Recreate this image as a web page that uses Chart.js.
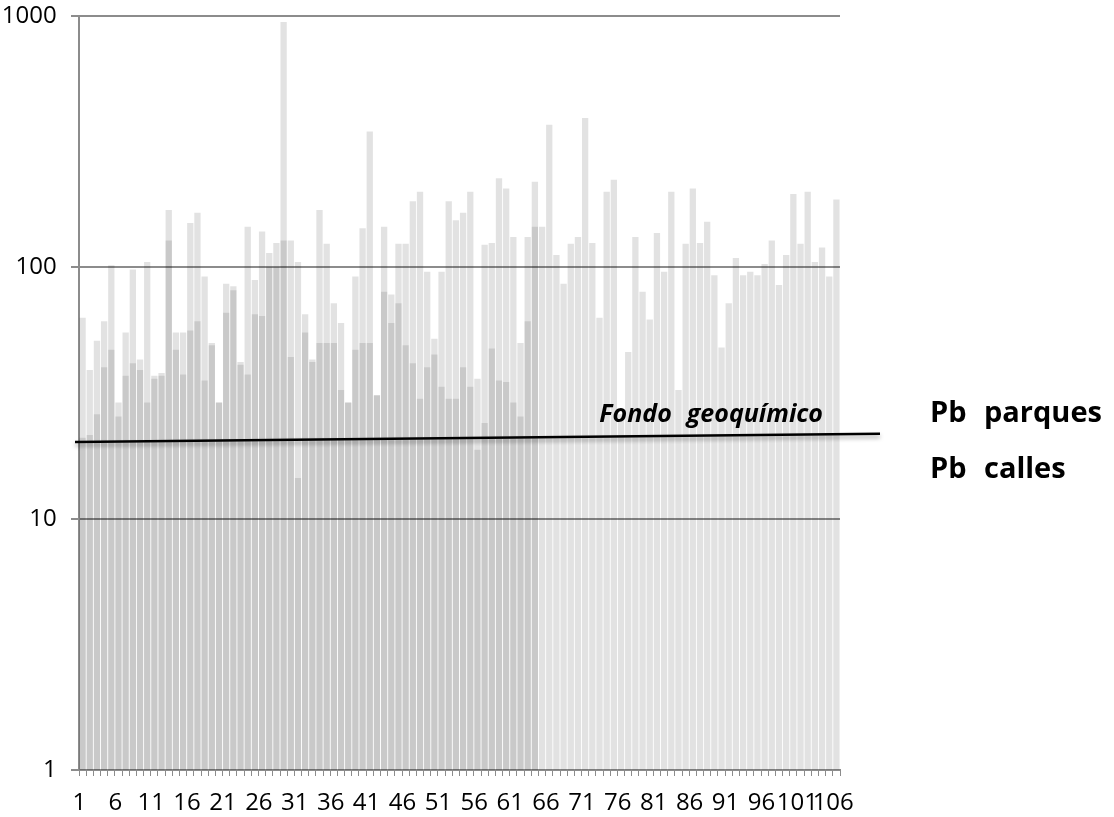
<!DOCTYPE html>
<html>
<head>
<meta charset="utf-8">
<title>Pb parques / Pb calles</title>
<script src="https://cdn.jsdelivr.net/npm/chart.js@4.4.1/dist/chart.umd.min.js"></script>
<style>
    body { margin: 0; background: #fff; }
    #wrap { width: 1114px; height: 817px; position: relative; }
</style>
</head>
<body>
<div id="wrap"><canvas id="pbChart"></canvas></div>
<script>
// --- DATA ---
const SEP = "\uF020"; // caracter que el original muestra como recuadro

const categories = [
    "1", "2", "3", "4", "5", "6", "7", "8", "9", "10",
    "11", "12", "13", "14", "15", "16", "17", "18", "19", "20",
    "21", "22", "23", "24", "25", "26", "27", "28", "29", "30",
    "31", "32", "33", "34", "35", "36", "37", "38", "39", "40",
    "41", "42", "43", "44", "45", "46", "47", "48", "49", "50",
    "51", "52", "53", "54", "55", "56", "57", "58", "59", "60",
    "61", "62", "63", "64", "65", "66", "67", "68", "69", "70",
    "71", "72", "73", "74", "75", "76", "77", "78", "79", "80",
    "81", "82", "83", "84", "85", "86", "87", "88", "89", "90",
    "91", "92", "93", "94", "95", "96", "97", "98", "99", "100",
    "101", "102", "103", "104", "105", "106"
];

// Pb en parques (mg/kg), muestras 1-64
const pbParques = [
    21, 21.5, 26, 40, 47, 25.5, 37, 41.5, 39, 29,
    36, 37, 128, 47, 37.5, 56, 61, 35.5, 49, 29,
    66, 81, 41, 37.5, 65, 64, 100, 100, 128, 44,
    14.5, 55, 42, 50, 50, 50, 32.5, 29, 47, 50,
    50, 31, 80, 60, 72, 49, 41.5, 30, 40, 45,
    33.5, 30, 30, 40, 33.5, 18.8, 24, 47.5, 35.5, 35,
    29, 25.5, 61, 145
];

// Pb en calles (mg/kg), muestras 1-106
const pbCalles = [
    63, 39, 51, 61, 102, 29, 55, 98, 43, 105,
    37, 38, 169, 55, 55, 150, 165, 92, 50, 29,
    86, 84, 42, 145, 89, 139, 114, 125, 947, 128,
    105, 65, 43, 169, 124, 72, 60, 29, 92, 143,
    347, 31, 145, 78, 124, 124, 183, 200, 96, 52,
    96, 183, 154, 165, 200, 36, 123, 125, 226, 206,
    132, 50, 132, 219, 145, 369, 112, 86, 124, 132,
    393, 125, 63, 200, 223, 26, 46, 132, 80, 62,
    137, 96, 200, 32.5, 124, 206, 125, 152, 93, 48,
    72, 109, 93, 96, 93, 103, 128, 85, 112, 196,
    124, 200, 105, 120, 92, 186
];

const seriesLabels = ["Pb" + SEP + "parques" + SEP, "Pb" + SEP + "calles" + SEP];
const yTicks = [1, 10, 100, 1000];
const xLabelStep = 5;

// fondo geoquímico: valor en el borde izquierdo y derecho del área
const fondoGeoquimico = [20.2, 21.7];
const fondoLabel = "Fondo" + SEP + "geoquímico" + SEP;

// --- PLUGIN: fondo geoquímico y leyenda ---
const extrasPlugin = {
    id: "extras",
    afterDraw(chart) {
        const ctx = chart.ctx;
        const area = chart.chartArea;
        const y = chart.scales.y;

        const yL = y.getPixelForValue(fondoGeoquimico[0]);
        const yR = y.getPixelForValue(fondoGeoquimico[1]);
        const slope = (yR - yL) / (area.right - area.left);
        const yAt = x => yL + (x - area.left) * slope;

        const x0 = area.left - 4;
        const x1 = area.right + 40;

        ctx.save();
        ctx.strokeStyle = "#000";
        ctx.lineWidth = 2.5;
        ctx.shadowColor = "rgba(0,0,0,0.35)";
        ctx.shadowBlur = 4;
        ctx.shadowOffsetY = 3;
        ctx.beginPath();
        ctx.moveTo(x0, yAt(x0));
        ctx.lineTo(x1, yAt(x1));
        ctx.stroke();
        ctx.restore();

        ctx.save();
        ctx.fillStyle = "#000";
        ctx.font = "italic bold 25px 'Open Sans'";
        ctx.textAlign = "right";
        ctx.textBaseline = "alphabetic";
        const tx = area.right - 2;
        ctx.fillText(fondoLabel, tx, yAt(tx) - 12);

        // leyenda a la derecha
        ctx.font = "bold 29px 'Open Sans'";
        ctx.textAlign = "left";
        ctx.textBaseline = "middle";
        const lx = area.right + 90;
        const mid = area.top + area.height / 2;
        chart.data.datasets.forEach((ds, i) => {
            ctx.fillText(ds.label, lx, mid + 21 + i * 56);
        });
        ctx.restore();
    }
};

// --- CHART ---
const ctx = document.getElementById("pbChart");

Chart.defaults.font.family = "'Open Sans', sans-serif";
Chart.defaults.color = "#000";

new Chart(ctx, {
    type: "bar",
    data: {
        labels: categories,
        datasets: [
            {
                label: seriesLabels[0],
                data: pbParques,
                backgroundColor: "rgba(0,0,0,0.115)",
                grouped: false,
                barPercentage: 0.88,
                categoryPercentage: 1
            },
            {
                label: seriesLabels[1],
                data: pbCalles,
                backgroundColor: "rgba(0,0,0,0.115)",
                grouped: false,
                barPercentage: 0.88,
                categoryPercentage: 1
            }
        ]
    },
    options: {
        responsive: true,
        maintainAspectRatio: false,
        animation: false,
        layout: {
            padding: { top: 16, right: 274, bottom: 0, left: 0 }
        },
        plugins: {
            legend: { display: false },
            tooltip: { enabled: false }
        },
        scales: {
            x: {
                grid: {
                    drawOnChartArea: false,
                    drawTicks: true,
                    tickLength: 6,
                    color: "#8c8c8c",
                    lineWidth: 1
                },
                border: { color: "#8c8c8c", width: 2 },
                ticks: {
                    autoSkip: false,
                    maxRotation: 0,
                    minRotation: 0,
                    padding: 13,
                    labelOffset: 4,
                    font: { size: 24 },
                    callback: (v, i) => i % xLabelStep === 0 ? categories[i] + SEP : ""
                },
                afterFit: scale => { scale.height = 47; }
            },
            y: {
                type: "logarithmic",
                min: 1,
                max: 1000,
                z: 1,
                afterBuildTicks: scale => {
                    scale.ticks = yTicks.map(v => ({ value: v }));
                },
                grid: {
                    color: "#8c8c8c",
                    lineWidth: 2,
                    tickLength: 8
                },
                border: { color: "#8c8c8c", width: 2 },
                ticks: {
                    padding: 0,
                    font: { size: 24 },
                    callback: v => v + SEP
                },
                afterFit: scale => { scale.width = 79; }
            }
        }
    },
    plugins: [extrasPlugin]
});
</script>
</body>
</html>
